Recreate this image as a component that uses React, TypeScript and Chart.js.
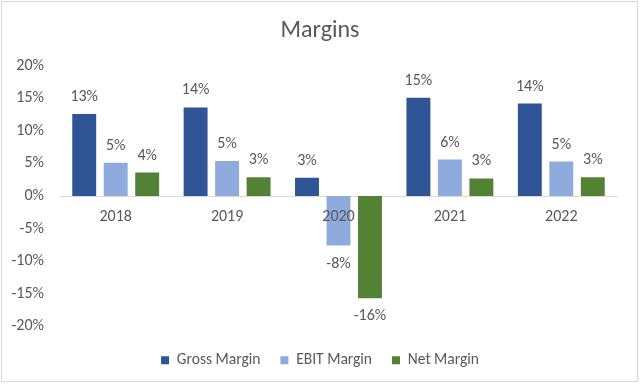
import React, { useEffect, useRef } from "react";
import { Chart, registerables } from "chart.js";

Chart.register(...registerables);

const categories = ["2018", "2019", "2020", "2021", "2022"];
const grossMargin = [12.6, 13.6, 2.8, 15.1, 14.2];
const ebitMargin = [5.1, 5.4, -7.6, 5.6, 5.3];
const netMargin = [3.6, 2.9, -15.7, 2.7, 2.9];
const seriesNames = ["Gross Margin", "EBIT Margin", "Net Margin"];
const yTicks = [-20, -15, -10, -5, 0, 5, 10, 15, 20];

const FONT = "Carlito, Lato, 'Open Sans', sans-serif";
const TEXT = "#595959";

const frame = {
  id: "frame",
  beforeDraw(chart: any) {
    const { ctx, width, height } = chart;
    ctx.save();
    ctx.fillStyle = "#ffffff";
    ctx.fillRect(0, 0, width, height);
    ctx.strokeStyle = "#d9d9d9";
    ctx.lineWidth = 1;
    ctx.strokeRect(1.5, 1.5, width - 4, height - 4);
    ctx.restore();
  },
};

const valueLabels = {
  id: "valueLabels",
  afterDatasetsDraw(chart: any) {
    const { ctx } = chart;
    ctx.save();
    ctx.font = `16px ${FONT}`;
    ctx.fillStyle = TEXT;
    ctx.textAlign = "center";
    ctx.textBaseline = "middle";
    chart.data.datasets.forEach((ds: any, i: number) => {
      const meta = chart.getDatasetMeta(i);
      meta.data.forEach((el: any, j: number) => {
        const v = ds.data[j] as number;
        const txt = Math.round(v) + "%";
        const y = v >= 0 ? el.y - 17 : el.y + 18;
        ctx.fillText(txt, el.x, y);
      });
    });
    ctx.restore();
  },
};

export default function App() {
  const ref = useRef<HTMLCanvasElement>(null);
  useEffect(() => {
    document.body.style.margin = "0";
    const chart = new Chart(ref.current!, {
      type: "bar",
      data: {
        labels: categories,
        datasets: [
          { label: seriesNames[0], data: grossMargin, backgroundColor: "#2F5597" },
          { label: seriesNames[1], data: ebitMargin, backgroundColor: "#8FAADC" },
          { label: seriesNames[2], data: netMargin, backgroundColor: "#548235" },
        ],
      },
      options: {
        animation: false,
        responsive: false,
        maintainAspectRatio: false,
        layout: { padding: { left: 0, right: 0, top: 0, bottom: 6 } },
        datasets: {
          bar: { categoryPercentage: 0.848, barPercentage: 0.76 },
        },
        scales: {
          x: {
            position: { y: 0 } as any,
            grid: { display: false, drawTicks: false },
            border: { color: "#d9d9d9", width: 1 },
            ticks: { z: 1, color: TEXT, font: { family: FONT, size: 16 }, padding: 11, maxRotation: 0 },
          },
          y: {
            min: -20,
            max: 20,
            afterBuildTicks: (axis: any) => {
              axis.ticks = yTicks.map((v) => ({ value: v }));
            },
            afterFit: (axis: any) => {
              axis.width = 60;
            },
            grid: { display: false, drawTicks: false },
            border: { display: false },
            ticks: {
              color: TEXT,
              font: { family: FONT, size: 16 },
              padding: 16,
              callback: (v: any) => v + "%",
            },
          },
          yRight: {
            type: "linear",
            position: "right",
            min: -20,
            max: 20,
            afterFit: (axis: any) => {
              axis.width = 23;
            },
            grid: { display: false, drawTicks: false },
            border: { display: false },
            ticks: { display: false },
          },
        },
        plugins: {
          title: {
            display: true,
            text: "Margins",
            color: TEXT,
            font: { family: FONT, size: 24, weight: "normal" as any },
            padding: { top: 17, bottom: 20 },
          },
          legend: {
            position: "bottom",
            title: {
              display: true,
              text: "",
              font: { size: 1 },
              padding: { top: 5, bottom: 0 },
            },
            labels: {
              color: TEXT,
              font: { family: FONT, size: 15.5 },
              boxWidth: 8,
              boxHeight: 8,
              padding: 20,
            },
          },
          tooltip: { enabled: false },
        },
      },
      plugins: [frame, valueLabels],
    });
    return () => chart.destroy();
  }, []);
  return (
    <div style={{ width: 640, height: 384 }}>
      <canvas ref={ref} width={640} height={384} />
    </div>
  );
}
